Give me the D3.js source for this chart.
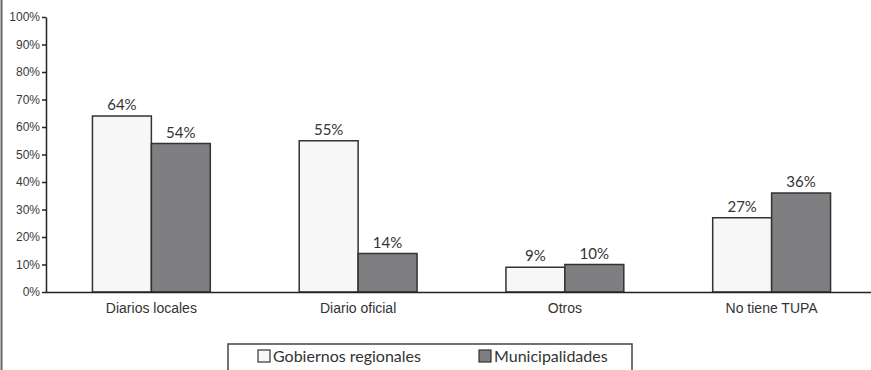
<!DOCTYPE html>
<html><head><meta charset="utf-8">
<script src="https://cdn.jsdelivr.net/npm/d3@7"></script>
<style>body{margin:0;background:#fff}svg{display:block;font-family:"Lato","DejaVu Sans",sans-serif}</style>
</head><body><svg id="c" width="871" height="370"></svg>
<script>
const categories = ["Diarios locales","Diario oficial","Otros","No tiene TUPA"];
const seriesNames = ["Gobiernos regionales","Municipalidades"];
const gobiernos = [64,55,9,27];
const municipalidades = [54,14,10,36];
const yTicks = [0,10,20,30,40,50,60,70,80,90,100];
const colors = ["#f7f7f7","#7f7f82"];

const svg = d3.select("#c");
const x0 = d3.scaleBand().domain(categories).range([48,875]).paddingInner(0.43).paddingOuter(0.215);
const x1 = d3.scaleBand().domain(seriesNames).range([0,x0.bandwidth()]);
const y = d3.scaleLinear().domain([0,100]).range([292,17]);

svg.append("line").attr("x1",1.5).attr("x2",1.5).attr("y1",0).attr("y2",370).attr("stroke","#666").attr("stroke-width",2);

const yAxis = d3.axisLeft(y).tickValues(yTicks).tickFormat(d=>d+"%").tickSize(4).tickSizeOuter(0);
const gy = svg.append("g").attr("transform","translate(46,0)").call(yAxis);
gy.select(".domain").attr("stroke","#222").attr("stroke-width",1.5);
gy.selectAll(".tick line").attr("stroke","#222").attr("stroke-width",1.5);
gy.selectAll(".tick text").attr("font-size",12).attr("fill","#3a3a3a").attr("x",-6);

const data = categories.map((c,i)=>({cat:c, vals:[gobiernos[i],municipalidades[i]]}));
const g = svg.append("g");
data.forEach(d=>{
  d.vals.forEach((v,j)=>{
    const xx = x0(d.cat)+x1(seriesNames[j]);
    g.append("rect").attr("x",xx).attr("y",y(v)).attr("width",x1.bandwidth()).attr("height",y(0)-y(v))
      .attr("fill",colors[j]).attr("stroke","#333").attr("stroke-width",1.5);
    g.append("text").attr("x",xx+x1.bandwidth()/2).attr("y",y(v)-6).attr("text-anchor","middle")
      .attr("font-size",15).attr("fill","#333").text(v+"%");
  });
});

svg.append("line").attr("x1",46).attr("x2",871).attr("y1",292.5).attr("y2",292.5).attr("stroke","#222").attr("stroke-width",1.5);
const xAxis = d3.axisBottom(x0).tickSize(0);
const gx = svg.append("g").attr("transform","translate(0,292)").call(xAxis);
gx.select(".domain").remove();
gx.selectAll(".tick text").attr("font-size",14).attr("fill","#333").attr("dy","1.25em");

const lg = svg.append("g");
lg.append("rect").attr("x",228).attr("y",344).attr("width",404).attr("height",40).attr("fill","#fff").attr("stroke","#444").attr("stroke-width",1.5);
const legX = [258,479];
seriesNames.forEach((n,j)=>{
  lg.append("rect").attr("x",legX[j]).attr("y",350).attr("width",12).attr("height",12).attr("fill",colors[j]).attr("stroke","#333").attr("stroke-width",1.2);
  lg.append("text").attr("x",legX[j]+15).attr("y",362).attr("font-size",16).attr("fill","#333").text(n);
});
</script></body></html>
